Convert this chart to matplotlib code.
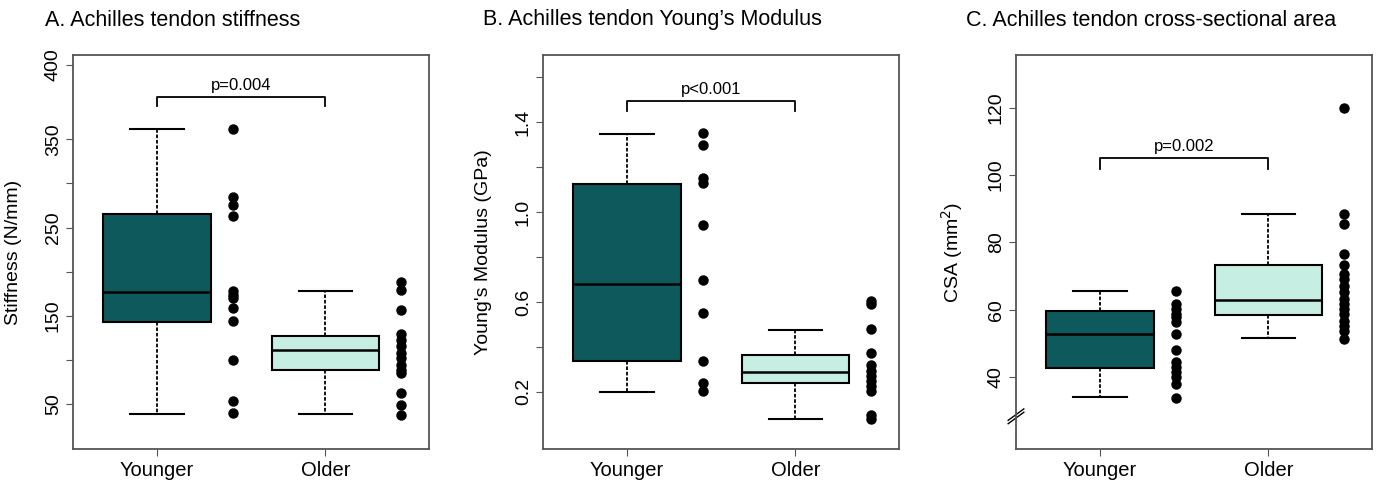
import matplotlib
matplotlib.use("Agg")
import matplotlib.pyplot as plt

plt.rcParams['font.family'] = ['Liberation Sans', 'DejaVu Sans']

groups = ["Younger", "Older"]
dark = "#0e595b"
light = "#c6eee3"

# box stats: (whislo, q1, med, q3, whishi)
stiff_box = [(39, 143, 177, 265.5, 361.7), (38.7, 88.9, 111.5, 127.4, 178.3)]
stiff_pts = [
    [361.3, 285, 275.7, 263.6, 177.5, 173, 170, 158.7, 143.6, 100.2, 53, 39.8],
    [187.7, 178.7, 156.8, 129.2, 122.8, 115.3, 107.7, 102, 94.5, 88.9, 85.1,
     62.5, 49.2, 37.9],
]
ym_box = [(0.2, 0.338, 0.681, 1.127, 1.348), (0.078, 0.238, 0.286, 0.364, 0.474)]
ym_pts = [
    [1.353, 1.30, 1.153, 1.13, 0.942, 0.70, 0.55, 0.338, 0.241, 0.204],
    [0.604, 0.59, 0.479, 0.372, 0.318, 0.293, 0.271, 0.249, 0.227, 0.204,
     0.096, 0.078],
]
csa_box = [(34.0, 42.7, 52.9, 59.5, 65.5), (51.6, 58.4, 62.9, 73.3, 88.4)]
csa_pts = [
    [65.7, 61.7, 60.2, 58.8, 57.8, 56.3, 52.8, 48.1, 44.4, 43.0, 41.5, 40, 38, 33.9],
    [120, 88.4, 85.6, 76.5, 73.4, 70.6, 69.1, 67.2, 65.2, 63.2, 61.7, 60.2,
     58.8, 56.8, 55.3, 53.8, 51.4],
]

titles = ["A. Achilles tendon stiffness", "B. Achilles tendon Young\u2019s Modulus",
          "C. Achilles tendon cross-sectional area"]
ylabels = ["Stiffness (N/mm)", "Young's Modulus (GPa)", "CSA (mm$^2$)"]
pvals = ["p=0.004", "p<0.001", "p=0.002"]

fig = plt.figure(figsize=(13.79, 4.83), dpi=100)
lefts = [73, 543, 1016]
title_x = [45, 483, 966]
axes = []
for i in range(3):
    ax = fig.add_axes([lefts[i] / 1379, 1 - 449 / 483, 356 / 1379, 394 / 483])
    axes.append(ax)


def draw_panel(ax, boxes, pts, ylim, bracket, ptext_y, ptxt):
    stats = []
    for b in boxes:
        stats.append(dict(whislo=b[0], q1=b[1], med=b[2], q3=b[3], whishi=b[4], fliers=[]))
    bp = ax.bxp(stats, positions=[1, 2], widths=0.64, patch_artist=True,
                showfliers=False,
                whiskerprops=dict(linestyle=(0, (2, 1)), color="black", lw=1.3),
                capprops=dict(color="black", lw=1.5), capwidths=0.32,
                medianprops=dict(color="black", lw=1.8),
                boxprops=dict(edgecolor="black", lw=1.5))
    bp['boxes'][0].set_facecolor(dark)
    bp['boxes'][1].set_facecolor(light)
    for k, p in enumerate(pts):
        ax.plot([k + 1.45] * len(p), p, 'o', color="black", markersize=6.5, ls='none')
    ax.set_xlim(0.5, 2.615)
    ax.set_ylim(*ylim)
    top, drop = bracket
    ax.plot([1, 1, 2, 2], [drop, top, top, drop], color="black", lw=1.3)
    ax.text(1.5, ptext_y, ptxt, ha="center", va="center", fontsize=12)
    ax.set_xticks([1, 2])
    ax.set_xticklabels(groups, fontsize=14.5)
    for s in ax.spines.values():
        s.set_color("#555555")
        s.set_linewidth(1.3)
    ax.tick_params(axis='y', labelrotation=90, labelsize=14, length=5, pad=3, color="#555555")
    ax.tick_params(axis='x', length=5, pad=4, color="#555555")


# panel A
ax = axes[0]
draw_panel(ax, stiff_box, stiff_pts, (-1, 445.5), (398.3, 387.7), 411.5, pvals[0])
ax.set_yticks([50, 100, 150, 200, 250, 300, 350, 434.2])
ax.set_yticklabels(["50", "", "150", "", "250", "", "350", "400"])

# panel B
ax = axes[1]
draw_panel(ax, ym_box, ym_pts, (-0.055, 1.70), (1.496, 1.452), 1.548, pvals[1])
ax.set_yticks([0.2, 0.4, 0.6, 0.8, 1.0, 1.2, 1.4, 1.6])
ax.set_yticklabels(["0.2", "", "0.6", "", "1.0", "", "1.4", ""])

# panel C
ax = axes[2]
draw_panel(ax, csa_box, csa_pts, (18.7, 135.6), (105, 101.9), 108.4, pvals[2])
ax.set_yticks([40, 60, 80, 100, 120])
tr = ax.get_yaxis_transform()
for off in (0, 1.0):
    ax.plot([-0.022, 0.022], [26.2 + off, 29.6 + off], color="black", lw=1.0,
            transform=tr, clip_on=False)

for i, ax in enumerate(axes):
    for lab in ax.get_yticklabels():
        lab.set_va("center")
    ax.set_ylabel(ylabels[i], fontsize=14)
    ax.yaxis.set_label_coords(-0.143, 0.5)
    fig.text(title_x[i] / 1379, 1 - 20 / 483, titles[i], fontsize=15.5, va="center", ha="left")

fig.savefig("out.png", dpi=100)
